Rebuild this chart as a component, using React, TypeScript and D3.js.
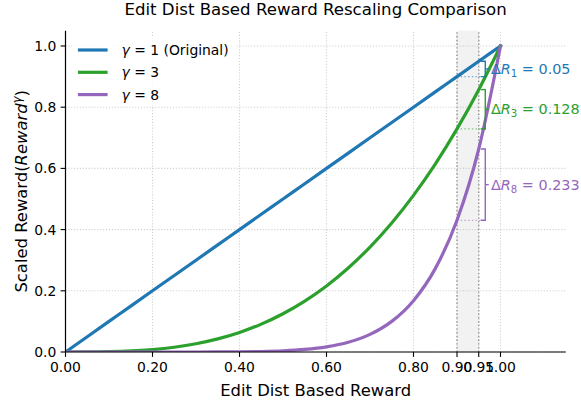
import React from 'react';
import * as d3 from 'd3';

// sample points along the reward axis
const xs = [0, 0.05, 0.1, 0.15, 0.2, 0.25, 0.3, 0.35, 0.4, 0.45, 0.5, 0.55, 0.6, 0.65, 0.7, 0.75, 0.8, 0.85, 0.9, 0.95, 1.0];
const yGamma1 = [0, 0.05, 0.1, 0.15, 0.2, 0.25, 0.3, 0.35, 0.4, 0.45, 0.5, 0.55, 0.6, 0.65, 0.7, 0.75, 0.8, 0.85, 0.9, 0.95, 1.0];
const yGamma3 = [0, 0.000125, 0.001, 0.003375, 0.008, 0.015625, 0.027, 0.042875, 0.064, 0.091125, 0.125, 0.166375, 0.216, 0.274625, 0.343, 0.421875, 0.512, 0.614125, 0.729, 0.857375, 1.0];
const yGamma8 = [0, 0, 0, 0.0000003, 0.0000026, 0.0000153, 0.0000656, 0.000225, 0.000655, 0.00168, 0.00390625, 0.00837, 0.016796, 0.031864, 0.057648, 0.100113, 0.167772, 0.272491, 0.430467, 0.66342, 1.0];

const gammas = [1, 3, 8];
const seriesY = [yGamma1, yGamma3, yGamma8];
const labelSuffix = [' (Original)', '', ''];
const colors = ['#1f77b4', '#2ca02c', '#9467bd'];

const xTicks = [0, 0.2, 0.4, 0.6, 0.8, 0.9, 0.95, 1.0];
const yTicks = [0, 0.2, 0.4, 0.6, 0.8, 1.0];
const bandStart = 0.9;
const bandEnd = 0.95;

const W = 581;
const H = 408;
const FONT = '"DejaVu Sans", sans-serif';

export default function App() {
  const x = d3.scaleLinear().domain([0, 1.15]).range([65.5, 65.5 + 1.15 * 435]);
  const y = d3.scaleLinear().domain([0, 1.05]).range([352, 352 - 1.05 * 306]);
  const [x0, x1] = x.range();
  const [y0, y1] = y.range();

  const line = d3.line<number>()
    .x((d, i) => x(xs[i]))
    .y(d => y(d))
    .curve(d3.curveMonotoneX);

  const iStart = xs.indexOf(bandStart);
  const iEnd = xs.indexOf(bandEnd);
  const bx = 0.965;

  const gridStyle = { stroke: '#b0b0b0', strokeOpacity: 0.6, strokeWidth: 1.1, strokeDasharray: '1.1,1.8' };

  return (
    <svg width={W} height={H} style={{ position: 'absolute', left: 0, top: 0 }} fontFamily={FONT}>
      <defs>
        <clipPath id="axes">
          <rect x={x0} y={y1} width={x1 - x0} height={y0 - y1} />
        </clipPath>
      </defs>
      <rect width={W} height={H} fill="white" />

      {/* highlighted band */}
      <rect x={x(bandStart)} y={y1} width={x(bandEnd) - x(bandStart)} height={y0 - y1} fill="#808080" fillOpacity={0.1} />

      {/* grid */}
      {xTicks.map(t => (
        <line key={'gx' + t} x1={x(t)} x2={x(t)} y1={y0} y2={y1} {...gridStyle} />
      ))}
      {yTicks.map(t => (
        <line key={'gy' + t} x1={x0} x2={x1} y1={y(t)} y2={y(t)} {...gridStyle} />
      ))}

      {/* band edges */}
      {[bandStart, bandEnd].map(t => (
        <line key={'v' + t} x1={x(t)} x2={x(t)} y1={y0} y2={y1} stroke="#808080" strokeOpacity={0.8} strokeWidth={1.4} strokeDasharray="1.4,2.3" />
      ))}

      {/* curves */}
      <g clipPath="url(#axes)">
        {seriesY.map((s, k) => (
          <path key={'s' + k} d={line(s) || ''} fill="none" stroke={colors[k]} strokeWidth={3.2} strokeLinejoin="round" strokeLinecap="square" />
        ))}
      </g>

      {/* delta brackets */}
      {seriesY.map((s, k) => {
        const lo = s[iStart];
        const hi = s[iEnd];
        const mid = (lo + hi) / 2;
        const delta = +(hi - lo).toFixed(3);
        return (
          <g key={'b' + k}>
            <line x1={x(bandStart)} x2={x(bx - 0.01)} y1={y(lo)} y2={y(lo)} stroke={colors[k]} strokeOpacity={0.6} strokeWidth={1.2} strokeDasharray="1.4,2.3" />
            <line x1={x(bandEnd)} x2={x(bx - 0.01)} y1={y(hi)} y2={y(hi)} stroke={colors[k]} strokeOpacity={0.6} strokeWidth={1.2} strokeDasharray="1.4,2.3" />
            <path d={`M${x(bx - 0.01)},${y(lo)}H${x(bx)}V${y(hi)}H${x(bx - 0.01)}`} fill="none" stroke={colors[k]} strokeWidth={1.4} />
            <line x1={x(bx)} x2={x(bx + 0.008)} y1={y(mid)} y2={y(mid)} stroke={colors[k]} strokeWidth={1.4} />
            <text x={x(bx + 0.013)} y={y(mid) + 5} fill={colors[k]} fontSize={14.4}>
              <tspan>Δ</tspan>
              <tspan fontStyle="italic">R</tspan>
              <tspan fontSize={10.2} dy={3.2}>{gammas[k]}</tspan>
              <tspan dy={-3.2}>{' = ' + delta}</tspan>
            </text>
          </g>
        );
      })}

      {/* spines */}
      <line x1={x0} x2={x0} y1={y0} y2={y1} stroke="black" strokeWidth={1.2} />
      <line x1={x0} x2={x1} y1={y0} y2={y0} stroke="black" strokeWidth={1.2} />

      {/* x ticks */}
      {xTicks.map(t => (
        <g key={'xt' + t}>
          <line x1={x(t)} x2={x(t)} y1={y0} y2={y0 + 4.9} stroke="black" strokeWidth={1.1} />
          <text x={x(t)} y={y0 + 20} textAnchor="middle" fontSize={13.9} fill="black">{t.toFixed(2)}</text>
        </g>
      ))}
      {/* y ticks */}
      {yTicks.map(t => (
        <g key={'yt' + t}>
          <line x1={x0 - 4.9} x2={x0} y1={y(t)} y2={y(t)} stroke="black" strokeWidth={1.1} />
          <text x={x0 - 9.2} y={y(t) + 5} textAnchor="end" fontSize={13.9} fill="black">{t.toFixed(1)}</text>
        </g>
      ))}

      {/* labels */}
      <text x={(x0 + x1) / 2} y={15} textAnchor="middle" fontSize={16.6} fill="black">Edit Dist Based Reward Rescaling Comparison</text>
      <text x={(x0 + x1) / 2} y={395.5} textAnchor="middle" fontSize={16.4} fill="black">Edit Dist Based Reward</text>
      <text transform={`translate(27,${(y0 + y1) / 2}) rotate(-90)`} textAnchor="middle" fontSize={16.4} fill="black">
        <tspan>Scaled Reward(</tspan>
        <tspan fontStyle="italic">Reward</tspan>
        <tspan fontStyle="italic" fontSize={11.5} dy={-6.5}>γ</tspan>
        <tspan dy={6.5}>)</tspan>
      </text>

      {/* legend */}
      <rect x={72.4} y={37.6} width={164} height={68} fill="white" fillOpacity={0.8} />
      {gammas.map((g, k) => {
        const ly = 50 + k * 22.3;
        return (
          <g key={'l' + k}>
            <line x1={79.5} x2={106} y1={ly} y2={ly} stroke={colors[k]} strokeWidth={3.2} strokeLinecap="square" />
            <text x={121.5} y={ly + 5} fontSize={13.9} fill="black">
              <tspan fontStyle="italic">γ</tspan>
              <tspan>{' = ' + g + labelSuffix[k]}</tspan>
            </text>
          </g>
        );
      })}
    </svg>
  );
}
